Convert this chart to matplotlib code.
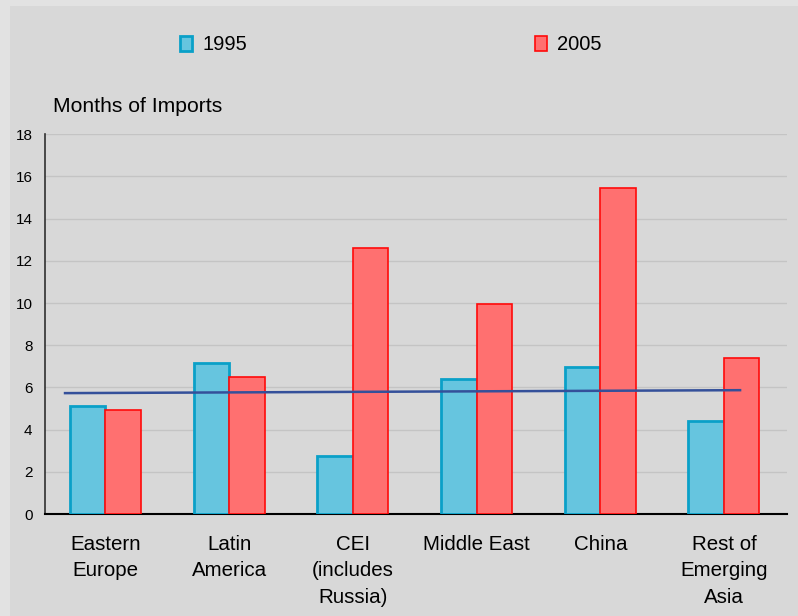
import matplotlib.pyplot as plt
from matplotlib.patches import Rectangle, Patch
import numpy as np

# reserves in months of imports, by region
regions = ["Eastern\nEurope", "Latin\nAmerica", "CEI\n(includes\nRussia)",
           "Middle East", "China", "Rest of\nEmerging\nAsia"]
vals_1995 = [5.12, 7.15, 2.75, 6.40, 6.98, 4.42]
vals_2005 = [4.93, 6.49, 12.60, 9.95, 15.44, 7.38]

# straight reference line drawn across the groups
trend_x = [-0.327, 5.13]
trend_y = [5.73, 5.87]

yticks = [0, 2, 4, 6, 8, 10, 12, 14, 16, 18]

plt.rcParams['font.family'] = ['Liberation Sans', 'DejaVu Sans']

fig = plt.figure(figsize=(7.98, 6.16), dpi=100, facecolor="#e2e2e2")
# inner panel
fig.patches.append(Rectangle((10 / 798, 0), 1, 1 - 6 / 616, transform=fig.transFigure,
                             facecolor="#d8d8d8", edgecolor="none", zorder=-10))

ax = fig.add_axes([45 / 798, 102 / 616, 741.7 / 798, 379.7 / 616])
ax.set_facecolor("#d8d8d8")

x = np.arange(len(regions))
w = 0.287
ax.bar(x - w / 2, vals_1995, width=w, color="#66c5df", edgecolor="#0aa0c8",
       linewidth=2, zorder=3, label="1995")
ax.bar(x + w / 2, vals_2005, width=w, color="#ff7070", edgecolor="#ff0a0a",
       linewidth=1.2, zorder=3, label="2005")
ax.plot(trend_x, trend_y, color="#34509a", linewidth=1.8, zorder=4)

ax.set_xlim(-0.489, 5.507)
ax.set_ylim(0, 18)
ax.set_yticks(yticks)
ax.set_yticklabels([str(t) for t in yticks], fontsize=11)
ax.set_xticks(x)
ax.set_xticklabels(regions, fontsize=14.8, linespacing=1.5, va="top")
ax.tick_params(axis="y", length=0, pad=9)
ax.tick_params(axis="x", length=0, pad=15)
ax.yaxis.grid(True, color="#c4c4c4", linewidth=1, zorder=0)
ax.set_axisbelow(True)

for s in ["top", "right"]:
    ax.spines[s].set_visible(False)
ax.spines["left"].set_color("#303030")
ax.spines["left"].set_linewidth(1.2)
ax.spines["bottom"].set_color("black")
ax.spines["bottom"].set_linewidth(1.5)

fig.text(53 / 798, 1 - 107 / 616, "Months of Imports", fontsize=15.2, va="center", ha="left")

handles = [Patch(facecolor="#66c5df", edgecolor="#0aa0c8", linewidth=2),
           Patch(facecolor="#ff7070", edgecolor="#ff0a0a", linewidth=1.2)]
fig.legend(handles, ["1995", "2005"], ncol=2, loc="center",
           bbox_to_anchor=(391 / 798, 1 - 45 / 616), frameon=False, fontsize=14.5,
           handlelength=0.6, handleheight=0.8, handletextpad=0.5, columnspacing=14.3)

fig.savefig("out.png", dpi=100, facecolor=fig.get_facecolor())
